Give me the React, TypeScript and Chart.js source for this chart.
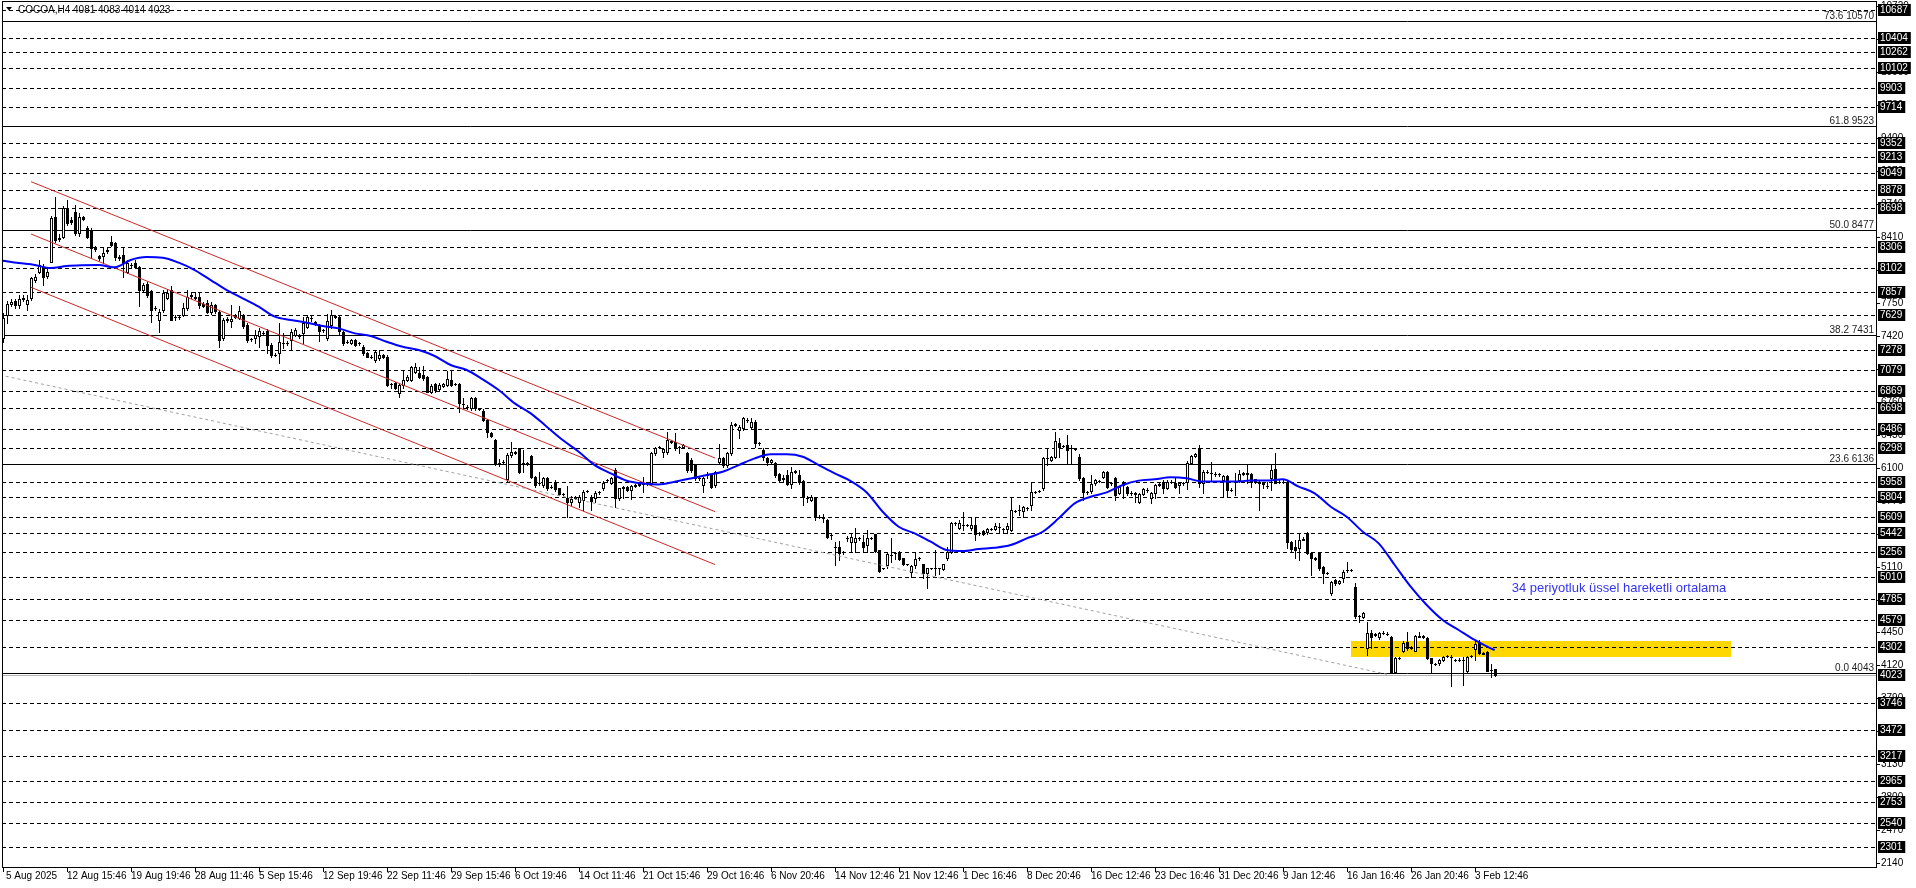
import { useEffect, useRef } from 'react';
import { Chart, registerables } from 'chart.js';
Chart.register(...registerables);

const W = 1916;
const H = 888;
const FONT = "'Liberation Sans', Arial, sans-serif";

// ---- OHLC candles (H4), [open, high, low, close] ----
const ohlc: number[][] = [
  [7400,7650,7360,7600],[7630,7770,7550,7740],[7740,7790,7720,7755],[7765,7790,7700,7730],[7730,7830,7700,7790],
  [7790,7830,7770,7800],[7740,7830,7680,7785],[7800,8015,7780,7997],[7980,8040,7960,8010],[8065,8180,8050,8130],
  [8115,8140,7930,8010],[8020,8090,8000,8065],[8165,8620,8160,8598],[8615,8815,8365,8380],[8390,8440,8370,8400],
  [8415,8720,8400,8700],[8700,8780,8530,8550],[8580,8610,8540,8560],[8665,8730,8430,8450],[8450,8650,8420,8615],
  [8610,8620,8580,8590],[8500,8520,8400,8415],[8480,8500,8200,8300],[8300,8320,8270,8290],[8220,8230,8180,8200],
  [8220,8315,8150,8250],[8270,8300,8250,8280],[8365,8420,8320,8330],[8350,8365,8180,8215],[8215,8230,8185,8200],
  [8230,8315,8015,8150],[8065,8180,8050,8150],[8130,8150,8110,8130],[8150,8180,8100,8115],[8110,8120,7715,7880],
  [7880,7950,7860,7930],[7945,7960,7810,7830],[7870,7880,7560,7680],[7700,7720,7680,7695],[7580,7690,7460,7660],
  [7680,7880,7660,7850],[7800,7890,7790,7850],[7880,7920,7575,7580],[7610,7630,7580,7605],[7605,7620,7590,7605],
  [7630,7750,7615,7700],[7700,7880,7680,7815],[7820,7860,7800,7830],[7810,7860,7790,7800],[7810,7850,7700,7730],
  [7740,7760,7710,7720],[7750,7780,7645,7660],[7660,7760,7640,7730],[7730,7740,7650,7665],[7660,7680,7310,7380],
  [7395,7600,7380,7580],[7580,7610,7560,7590],[7570,7730,7510,7590],[7630,7640,7600,7610],[7600,7715,7590,7665],
  [7630,7640,7500,7515],[7530,7545,7360,7380],[7385,7400,7370,7385],[7395,7480,7345,7430],[7420,7500,7310,7465],
  [7450,7470,7430,7450],[7465,7490,7245,7330],[7330,7345,7210,7230],[7230,7245,7215,7230],[7245,7545,7145,7360],
  [7350,7450,7300,7345],[7345,7370,7330,7350],[7380,7485,7280,7460],[7430,7500,7420,7480],[7420,7440,7400,7415],
  [7445,7610,7345,7545],[7510,7630,7500,7610],[7600,7630,7570,7595],[7545,7570,7530,7560],[7515,7540,7370,7465],
  [7475,7490,7460,7480],[7395,7640,7380,7565],[7530,7680,7500,7630],[7615,7630,7600,7610],[7610,7630,7440,7465],
  [7460,7470,7330,7345],[7360,7375,7345,7360],[7345,7390,7335,7380],[7380,7390,7320,7330],[7345,7360,7330,7345],
  [7310,7330,7230,7245],[7250,7260,7205,7210],[7210,7225,7195,7210],[7180,7280,7160,7260],
  [7200,7280,7180,7230],[7225,7235,7195,7205],[7212,7230,6920,6928],[6935,6950,6895,6935],[6945,6955,6890,6895],
  [6845,6940,6810,6928],[6928,7080,6895,6980],[6980,7030,6970,7005],[6980,7120,6970,7105],[7060,7150,7050,7112],
  [7052,7112,6995,7012],[7028,7118,6980,6995],[7005,7020,6860,6862],[6862,6940,6850,6922],[6938,6950,6860,6878],
  [6885,6950,6870,6930],[6915,6945,6905,6935],[6930,7072,6920,6985],[6980,7072,6915,6930],[6935,6950,6925,6935],
  [6935,6945,6660,6745],[6740,6800,6700,6735],[6710,6725,6690,6705],[6695,6810,6680,6795],[6795,6810,6680,6695],
  [6690,6700,6675,6685],[6670,6690,6570,6578],[6578,6590,6410,6460],[6450,6460,6410,6420],[6378,6390,6130,6137],
  [6145,6190,6120,6150],[6155,6175,6145,6160],[5987,6244,5970,6227],[6227,6360,6210,6254],[6254,6265,6240,6250],
  [6294,6300,6050,6060],[6140,6280,6060,6144],[6144,6160,6130,6144],[6217,6230,6000,6010],[6010,6015,5910,5927],
  [5950,6060,5925,5950],[5927,6010,5910,5993],[5993,6010,5880,5893],[5910,5925,5895,5910],[5960,5975,5870,5883],
  [5893,5900,5825,5837],[5837,5850,5825,5837],[5793,5920,5603,5760],[5760,5820,5730,5790],[5800,5815,5790,5803],
  [5760,5830,5710,5810],[5776,5876,5676,5860],[5867,5880,5855,5867],[5810,5830,5676,5770],[5793,5870,5760,5850],
  [5853,5865,5840,5853],[5893,5970,5880,5950],[5977,5990,5965,5977],[5950,6010,5940,5993],[6077,6094,5710,5793],
  [5793,5900,5780,5893],[5900,5915,5793,5903],[5910,5920,5870,5877],[5877,5930,5783,5917],[5920,5935,5910,5927],
  [5930,5945,5920,5937],[5940,6010,5860,5943],[5943,5955,5930,5943],[5943,6260,5930,6244],[6244,6310,6230,6294],
  [6305,6320,6295,6311],[6260,6300,6210,6290],[6260,6460,6240,6377],[6365,6380,6350,6360],[6360,6450,6280,6311],
  [6311,6320,6245,6311],[6311,6335,6300,6327],[6250,6260,6060,6077],[6177,6200,6060,6077],[6127,6140,5980,5993],
  [5993,6005,5980,5993],[5927,6010,5860,5993],[6027,6060,5995,6027],[6027,6040,5900,5910],[5927,6070,5910,6060],
  [6160,6340,6150,6194],[6194,6210,6110,6127],[6127,6260,6110,6250],[6244,6560,6230,6528],[6530,6545,6520,6534],
  [6480,6530,6395,6510],[6494,6610,6480,6594],[6577,6600,6560,6577],[6510,6600,6500,6560],[6560,6580,6310,6344],
  [6344,6360,6330,6344],
  [6277,6294,6177,6210],[6194,6210,6127,6160],[6155,6190,6140,6177],[6144,6160,6010,6027],[6034,6050,5960,5977],
  [5990,6027,5960,5994],[6027,6077,5927,5933],[5933,6110,5893,6060],[6060,6080,6050,6067],[6027,6077,5933,5960],
  [5967,5980,5726,5810],[5795,5820,5760,5793],[5776,5830,5770,5810],[5793,5810,5576,5610],[5610,5625,5595,5610],
  [5595,5640,5560,5593],[5576,5590,5395,5409],[5426,5440,5390,5426],[5305,5359,5125,5309],[5309,5366,5175,5242],
  [5252,5265,5240,5252],[5395,5420,5370,5399],[5359,5442,5259,5409],[5352,5492,5259,5399],[5392,5405,5380,5392],
  [5359,5426,5259,5309],[5326,5476,5259,5392],[5399,5410,5390,5399],[5432,5440,5259,5265],[5275,5280,5058,5065],
  [5092,5100,5085,5092],[5125,5245,5092,5232],[5225,5400,5160,5225],[5242,5260,5185,5242],[5259,5270,5180,5186],
  [5192,5200,5125,5132],[5132,5140,5125,5132],[5058,5130,5008,5119],[5125,5260,5100,5186],[5192,5205,5180,5192],
  [5132,5140,4992,5042],[5042,5100,4898,5092],[5092,5100,5085,5092],[5092,5275,5025,5092],[5092,5100,5040,5092],
  [5082,5140,5075,5132],[5192,5309,5175,5259],[5259,5560,5242,5543],[5543,5555,5530,5543],[5493,5576,5485,5543],
  [5526,5660,5475,5526],[5526,5540,5515,5526],[5500,5593,5475,5526],[5526,5610,5376,5432],[5442,5455,5430,5442],
  [5466,5475,5430,5440],[5452,5495,5440,5486],[5486,5495,5475,5486],[5486,5543,5480,5520],[5510,5543,5442,5510],
  [5486,5500,5442,5486],[5486,5543,5442,5520],[5476,5810,5470,5676],[5666,5680,5655,5666],[5676,5726,5626,5676],
  [5666,5720,5610,5710],[5693,5705,5680,5693],[5726,5943,5676,5853],[5860,5870,5850,5860],[5867,5880,5855,5867],
  [5893,6210,5880,6194],[6200,6294,6127,6200],[6177,6220,6170,6210],[6210,6461,6194,6367],[6344,6394,6210,6311],
  [6320,6330,6310,6320],[6327,6428,6144,6277],[6294,6327,6144,6294],[6287,6300,6275,6287],[6210,6234,5977,6000],
  [6000,6010,5776,5860],[5853,5865,5840,5853],[5866,6027,5843,5933],[5943,5985,5928,5977],[5967,5980,5955,5967],
  [6010,6067,6000,6060],[6060,6067,5893,5910],[5943,5955,5930,5943],[6000,6010,5776,5826],[5850,5911,5840,5910],
  [5930,5970,5800,5944],[5911,5920,5830,5844],[5850,5870,5830,5852],[5845,5860,5760,5840],[5760,5850,5745,5838],
  [5838,5900,5830,5884],[5880,5895,5860,5878],[5794,5855,5750,5844],[5844,5940,5794,5927],[5930,5950,5920,5937],
  [5961,5977,5844,5894],[5894,5975,5885,5961],[5958,5975,5945,5961],[5944,6010,5900,5911],[5928,5955,5844,5944],
  [5944,5960,5930,5946],[5961,6165,5884,6151],[6151,6230,6140,6218],[6218,6250,6210,6238],[6295,6328,5911,5944],
  [5944,6075,5844,6061],[6061,6075,6045,6060],[6050,6161,5977,6051],[6040,6055,6020,6034],[6034,6050,6020,6036],
  [5977,6030,5804,6017],[6017,6030,5810,5877],[5877,5895,5865,5880],[5955,6044,5827,5961],[5977,6078,5960,6034],
  [6040,6055,6030,6044],[6044,6138,5944,6040],[6034,6045,5911,5961],[5984,5990,5950,5961],[5955,5965,5677,5950],
  [5944,5955,5894,5940],[5915,5960,5894,5917],[5994,6128,5877,6078],[6084,6251,5944,5951],[5958,5975,5945,5961],
  [5961,5975,5945,5958],[5961,5975,5293,5360],[5360,5370,5270,5283],[5310,5376,5193,5276],[5293,5436,5176,5376],
  [5380,5410,5376,5383],[5443,5460,5236,5243],[5243,5250,5026,5193],[5193,5205,5180,5190],[5250,5260,5076,5092],
  [5109,5115,4942,5042],[5050,5060,5035,5048],[4842,4970,4825,4959],[4976,4985,4930,4942],[4942,4980,4935,4970],
  [4992,5076,4959,5059],[5075,5160,5060,5076],[5078,5085,5070,5076],[4909,4942,4592,4615],[4615,4625,4558,4612],
  [4608,4660,4600,4648],[4291,4558,4224,4448],[4448,4475,4291,4408],[4430,4440,4415,4425],[4408,4455,4380,4441],
  [4445,4460,4430,4441],[4435,4450,4420,4434],[4401,4410,4041,4057],[4057,4200,4050,4191],[4195,4205,4180,4191],
  [4268,4360,4255,4348],[4358,4458,4270,4291],[4295,4310,4285,4298],[4268,4425,4260,4415],[4408,4458,4400,4410],
  [4410,4420,4395,4405],[4391,4400,4180,4191],[4191,4195,4041,4141],[4138,4145,4125,4135],[4148,4180,4120,4174],
  [4174,4210,4165,4201],[4210,4225,4205,4214],[4207,4220,3914,4200],[4174,4185,4160,4172],[4174,4190,4165,4176],
  [4170,4207,3924,4174],[4064,4215,4055,4207],[4210,4225,4200,4214],[4281,4375,4174,4331],[4358,4375,4230,4241],
  [4241,4250,4230,4238],[4251,4260,4060,4067],[4074,4130,4000,4070],[4081,4083,4014,4023],
];

// ---- 34-period EMA, read every 4 bars (bars 0..372) plus last bar ----
const emaValues = [
  8174,8150,8131,8100,8120,8128,8131,8107,8181,8210,
  8204,8154,8080,7980,7880,7797,7713,7613,7580,7553,
  7520,7496,7446,7420,7362,7312,7279,7219,7129,7079,
  6985,6878,6745,6645,6511,6377,6261,6127,6044,5970,
  5943,5933,5960,5993,6027,6060,6127,6194,6234,6234,
  6210,6127,6043,5967,5853,5659,5509,5442,5359,5276,
  5265,5286,5299,5326,5392,5459,5593,5743,5810,5853,
  5927,5971,5984,6004,5994,5961,5961,5961,5971,5971,
  5984,5911,5844,5710,5610,5460,5343,5126,4909,4725,
  4575,4475,4375,4291,
];
const emaLast = { bar: 373, value: 4275 };

// ---- horizontal dashed levels (boxed labels) ----
const levelLines = [10687,10404,10262,10102,9903,9714,9352,9213,9049,8878,8698,8306,8102,7857,7629,7278,7079,6869,6698,6486,6298,5958,5804,5609,5442,5256,5010,4785,4579,4302,3746,3472,3217,2965,2753,2540,2301];
// ---- Fibonacci levels ----
const fibRatios = ['73.6','61.8','50.0','38.2','23.6','0.0'];
const fibPrices = [10570,9523,8477,7431,6136,4043];
// ---- price scale ticks ----
const priceTicks = [2140,2470,2800,3130,3460,3790,4120,4450,4780,5110,5440,5770,6100,6430,6760,7090,7420,7750,8080,8410,8740,9070,9400,9730,10060,10390,10720];
const lastPrice = 4023;
// ---- time axis labels ----
const timeLabelBars = [0,16,32,48,64,80,96,112,128,144,160,176,192,208,224,240,256,272,288,304,320,336,352,368];
const timeLabels = ['5 Aug 2025','12 Aug 15:46','19 Aug 19:46','28 Aug 11:46','5 Sep 15:46','12 Sep 19:46','22 Sep 11:46','29 Sep 15:46','6 Oct 19:46','14 Oct 11:46','21 Oct 15:46','29 Oct 16:46','6 Nov 20:46','14 Nov 12:46','21 Nov 12:46','1 Dec 16:46','8 Dec 20:46','16 Dec 12:46','23 Dec 16:46','31 Dec 20:46','9 Jan 12:46','16 Jan 16:46','26 Jan 20:46','3 Feb 12:46'];
// ---- drawn objects ----
const channelUpper = [{ x: 7.08, y: 8965 }, { x: 178.1, y: 6197 }];
const channelMiddle = [{ x: 7.08, y: 8441 }, { x: 178.1, y: 5660 }];
const channelLower = [{ x: 7.08, y: 7907 }, { x: 178.1, y: 5130 }];
const greyTrend = [{ x: -0.7, y: 7029 }, { x: 346.1, y: 4031 }];
const zone = { x1: 337.1, x2: 432.1, high: 4364, low: 4207 };
const note = { x: 377.25, y: 4855, text: '34 periyotluk üssel hareketli ortalama' };
const title = 'COCOA,H4 4081 4083 4014 4023';

export default function App() {
  const ref = useRef<HTMLCanvasElement | null>(null);
  useEffect(() => {
    document.body.style.margin = '0';
    const canvas = ref.current!;
    const emaData = emaValues.map((v, i) => ({ x: i * 4, y: v }));
    emaData.push({ x: emaLast.bar, y: emaLast.value });

    const drawPlugin = {
      id: 'mt4',
      beforeDatasetsDraw(chart: any) {
        const { ctx, chartArea: a, scales } = chart;
        const xs = scales.x, ys = scales.y;
        ctx.save();
        // zone rectangle (background)
        const zx1 = xs.getPixelForValue(zone.x1), zx2 = xs.getPixelForValue(zone.x2);
        const zy1 = ys.getPixelForValue(zone.high), zy2 = ys.getPixelForValue(zone.low);
        ctx.fillStyle = '#FFD700';
        ctx.fillRect(Math.round(zx1), Math.round(zy1), Math.round(zx2 - zx1), Math.round(zy2 - zy1));
        // dashed levels
        ctx.strokeStyle = '#000';
        ctx.lineWidth = 1;
        ctx.setLineDash([4, 3]);
        for (const v of levelLines) {
          const py = Math.round(ys.getPixelForValue(v)) + 0.5;
          ctx.beginPath(); ctx.moveTo(a.left, py); ctx.lineTo(a.right, py); ctx.stroke();
        }
        ctx.setLineDash([]);
        // bid line
        const by = Math.round(ys.getPixelForValue(lastPrice)) + 0.5;
        ctx.strokeStyle = '#b4b4b4';
        ctx.beginPath(); ctx.moveTo(a.left, by); ctx.lineTo(a.right, by); ctx.stroke();
        // fib lines + labels
        ctx.strokeStyle = '#000';
        ctx.fillStyle = '#1e1e1e';
        ctx.font = `10px ${FONT}`;
        ctx.textAlign = 'right';
        ctx.textBaseline = 'alphabetic';
        fibPrices.forEach((p, i) => {
          const py = Math.round(ys.getPixelForValue(p)) + 0.5;
          ctx.beginPath(); ctx.moveTo(a.left, py); ctx.lineTo(a.right, py); ctx.stroke();
          ctx.fillText(`${fibRatios[i]} ${p}`, a.right - 2, py - 2.5);
        });
        // candles
        ohlc.forEach((c, i) => {
          const [o, h, l, cl] = c;
          const cx = Math.round(xs.getPixelForValue(i));
          const yh = Math.round(ys.getPixelForValue(h));
          const yl = Math.round(ys.getPixelForValue(l));
          const yo = Math.round(ys.getPixelForValue(o));
          const yc = Math.round(ys.getPixelForValue(cl));
          ctx.fillStyle = '#000';
          ctx.fillRect(cx, yh, 1, yl - yh + 1);
          const top = Math.min(yo, yc), bot = Math.max(yo, yc);
          ctx.fillRect(cx - 1, top, 3, bot - top + 1);
          if (cl > o && bot - top >= 2) {
            ctx.fillStyle = '#fff';
            ctx.fillRect(cx, top + 1, 1, bot - top - 1);
          }
        });
        ctx.restore();
      },
      afterDraw(chart: any) {
        const { ctx, chartArea: a, scales } = chart;
        const xs = scales.x, ys = scales.y;
        ctx.save();
        // frame
        ctx.strokeStyle = '#000';
        ctx.lineWidth = 1;
        ctx.strokeRect(a.left + 0.5, a.top - 0.5, a.right - a.left, a.bottom - a.top + 1);
        // note text
        ctx.fillStyle = '#3535ee';
        ctx.font = `13px ${FONT}`;
        ctx.textAlign = 'left';
        ctx.textBaseline = 'alphabetic';
        ctx.fillText(note.text, xs.getPixelForValue(note.x), ys.getPixelForValue(note.y));
        // title
        ctx.fillStyle = '#000';
        ctx.beginPath(); ctx.moveTo(6, 7); ctx.lineTo(12, 7); ctx.lineTo(9, 10.5); ctx.closePath(); ctx.fill();
        ctx.font = `10px ${FONT}`;
        ctx.fillText(title, 18, 12.5);
        // price axis
        ctx.textBaseline = 'middle';
        ctx.fillStyle = '#000';
        for (const t of priceTicks) {
          const py = Math.round(ys.getPixelForValue(t));
          ctx.fillRect(a.right + 1, py, 3, 1);
          ctx.fillText(String(t), a.right + 5, py + 0.5);
        }
        const box = (v: number) => {
          const py = Math.round(ys.getPixelForValue(v));
          const tw = ctx.measureText(String(v)).width;
          ctx.fillStyle = '#000';
          ctx.fillRect(a.right + 2, py - 6, tw + 5, 12);
          ctx.fillStyle = '#fff';
          ctx.fillText(String(v), a.right + 4, py + 0.5);
        };
        levelLines.forEach(box);
        box(lastPrice);
        // time axis
        ctx.fillStyle = '#000';
        ctx.textAlign = 'left';
        timeLabelBars.forEach((b, i) => {
          const px = Math.round(xs.getPixelForValue(b));
          ctx.fillRect(px, a.bottom + 1, 1, 4);
          ctx.fillText(timeLabels[i], i === 0 ? px + 3 : px, a.bottom + 9);
        });
        ctx.restore();
      },
    };

    const chart = new Chart(canvas, {
      type: 'line',
      data: {
        datasets: [
          { data: emaData, borderColor: '#0000ff', borderWidth: 2, pointRadius: 0, cubicInterpolationMode: 'monotone', order: 0 } as any,
          { data: channelUpper, borderColor: '#c82828', borderWidth: 1, pointRadius: 0, order: 1 },
          { data: channelMiddle, borderColor: '#c82828', borderWidth: 1, pointRadius: 0, order: 1 },
          { data: channelLower, borderColor: '#c82828', borderWidth: 1, pointRadius: 0, order: 1 },
          { data: greyTrend, borderColor: '#a0a0a0', borderWidth: 1, borderDash: [3, 3], pointRadius: 0, order: 2 },
        ],
      },
      options: {
        animation: false,
        responsive: false,
        devicePixelRatio: 1,
        events: [],
        layout: { padding: { left: 2, top: 2, right: 40, bottom: 21 } },
        plugins: { legend: { display: false }, tooltip: { enabled: false } },
        scales: {
          x: { type: 'linear', min: -0.175, max: 468.325, display: false },
          y: { type: 'linear', min: 2101.3, max: 10764.6, display: false },
        },
      },
      plugins: [drawPlugin],
    });
    return () => chart.destroy();
  }, []);
  return (
    <div style={{ width: W, height: H, overflow: 'hidden', background: '#fff' }}>
      <canvas ref={ref} width={W} height={H} style={{ display: 'block' }} />
    </div>
  );
}
